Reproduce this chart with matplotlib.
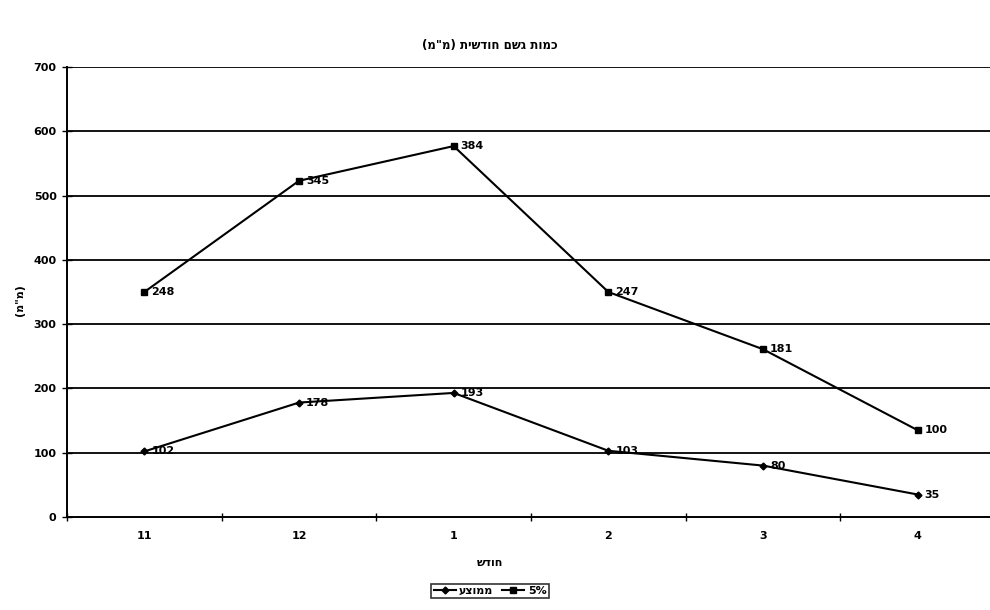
import matplotlib
matplotlib.use("Agg")
import matplotlib.pyplot as plt
import numpy as np

# ---- data ----
months = ["11", "12", "1", "2", "3", "4"]
mean_vals = [102, 178, 193, 103, 80, 35]      # ממוצע
pct5_vals = [248, 345, 384, 247, 181, 100]    # 5% (stacked on top of mean)
series_names = ["ממוצע", "5%"]
title_text = 'כמות גשם חודשית (מ"מ)'
ylabel_text = '(מ"מ)'
xlabel_text = "חודש"
yticks = [0, 100, 200, 300, 400, 500, 600, 700]


def vis(s):
    """Simple visual ordering for RTL Hebrew text."""
    if not any('\u0590' <= c <= '\u05ff' for c in s):
        return s
    mirror = {"(": ")", ")": "("}
    return "".join(mirror.get(c, c) for c in reversed(s))


plt.rcParams['font.family'] = ['DejaVu Sans']

fig = plt.figure(figsize=(9.9, 6.1), dpi=100)
ax = fig.add_axes([67 / 990, 1 - 517 / 610, (995 - 67) / 990, (517 - 67) / 610])

x = np.arange(len(months))
stack_top = np.array(mean_vals) + np.array(pct5_vals)

l1, = ax.plot(x, mean_vals, color="black", lw=1.5, marker="D", ms=3.5,
              mfc="black", mec="black", label=vis(series_names[0]))
l2, = ax.plot(x, stack_top, color="black", lw=1.5, marker="s", ms=4,
              mfc="black", mec="black", label=vis(series_names[1]))

for xi, yv, lab in zip(x, mean_vals, mean_vals):
    ax.annotate(str(lab), (xi, yv), xytext=(5, 0), textcoords="offset points",
                ha="left", va="center", fontsize=8, fontweight="bold")
for xi, yv, lab in zip(x, stack_top, pct5_vals):
    ax.annotate(str(lab), (xi, yv), xytext=(5, 0), textcoords="offset points",
                ha="left", va="center", fontsize=8, fontweight="bold")

ax.set_xlim(-0.5, len(months) - 0.5)
ax.set_ylim(0, 700)
ax.set_yticks(yticks)
ax.set_yticklabels([str(v) for v in yticks], fontsize=8, fontweight="bold")
ax.set_xticks(x)
ax.set_xticklabels(months, fontsize=8, fontweight="bold")
ax.set_xticks(np.arange(-0.5, len(months) + 0.5, 1), minor=True)
ax.tick_params(axis="x", which="major", length=0, pad=10)
ax.tick_params(axis="x", which="minor", length=6, direction="inout", width=1)
ax.tick_params(axis="y", which="major", length=7, direction="inout", width=1, pad=4)

for v in yticks[1:]:
    ax.axhline(v, color="black", lw=1.3, zorder=0)

for s in ["top", "right"]:
    ax.spines[s].set_visible(False)
ax.spines["left"].set_linewidth(1.4)
ax.spines["bottom"].set_linewidth(1.4)

fig.text(490 / 990, 1 - 45 / 610, vis(title_text), ha="center", va="center",
         fontsize=8.5, fontweight="bold")
fig.text(20 / 990, 1 - 300 / 610, vis(ylabel_text), ha="center", va="center",
         rotation=90, fontsize=8, fontweight="bold")
fig.text(490 / 990, 1 - 563 / 610, vis(xlabel_text), ha="center", va="center",
         fontsize=8, fontweight="bold")

leg = fig.legend(handles=[l1, l2], loc="center", bbox_to_anchor=(490 / 990, 1 - 591 / 610),
                 ncol=2, frameon=True, fancybox=False, edgecolor="black",
                 handlelength=2.0, handletextpad=0.3, columnspacing=0.8,
                 borderpad=0.2, prop={'weight': 'bold', 'size': 8})
leg.get_frame().set_linewidth(1.2)

fig.savefig("out.png", dpi=100)
